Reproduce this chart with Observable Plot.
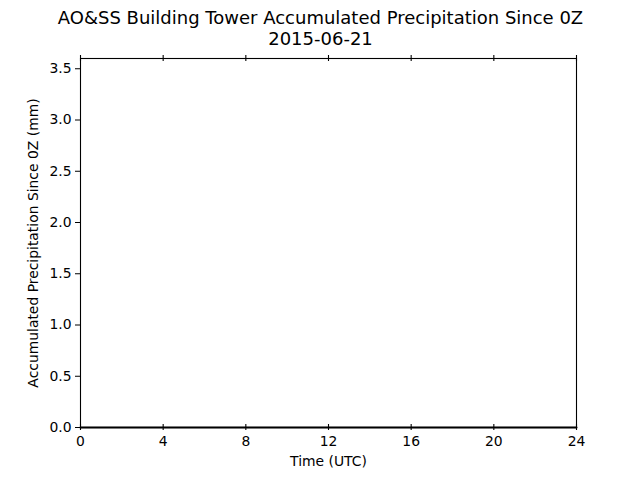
<!DOCTYPE html>
<html>
<head>
<meta charset="utf-8">
<script src="https://cdn.jsdelivr.net/npm/d3@7"></script>
<script src="https://cdn.jsdelivr.net/npm/@observablehq/plot@0.6"></script>
<style>
  html, body { margin: 0; padding: 0; background: white; }
</style>
</head>
<body>
<div id="chart"></div>
<script>
const titleLines = ["AO&SS Building Tower Accumulated Precipitation Since 0Z", "2015-06-21"];
const xLabel = "Time (UTC)";
const yLabel = "Accumulated Precipitation Since 0Z (mm)";
const hours = [0, 1, 2, 3, 4, 5, 6, 7, 8, 9, 10, 11, 12, 13, 14, 15, 16, 17, 18, 19, 20, 21, 22, 23, 24];
const precip = [0, 0, 0, 0, 0, 0, 0, 0, 0, 0, 0, 0, 0, 0, 0, 0, 0, 0, 0, 0, 0, 0, 0, 0, 0];
const xTicks = [0, 4, 8, 12, 16, 20, 24];
const yTicks = [0, 0.5, 1.0, 1.5, 2.0, 2.5, 3.0, 3.5];

const data = hours.map((h, i) => ({hour: h, value: precip[i]}));

const W = 640, H = 480;
const mTop = 58, mBottom = 53, mLeft = 80, mRight = 64;
const innerH = H - mTop - mBottom;

const chart = Plot.plot({
  width: W,
  height: H,
  marginTop: mTop,
  marginBottom: mBottom,
  marginLeft: mLeft,
  marginRight: mRight,
  style: {fontFamily: "DejaVu Sans", fontSize: "13.9px", color: "black", background: "white"},
  x: {domain: [0, 24]},
  y: {domain: [0, 3.6]},
  marks: [
    Plot.frame({stroke: "black", strokeWidth: 1.1}),
    Plot.line(data, {x: "hour", y: "value", stroke: "black", strokeWidth: 2}),
    Plot.tickX(xTicks, {x: d => d, stroke: "black", strokeWidth: 1.1, insetTop: innerH - 3, insetBottom: -3}),
    Plot.tickX(xTicks, {x: d => d, stroke: "black", strokeWidth: 1.1, insetTop: -3, insetBottom: innerH - 3}),
    Plot.axisX({ticks: xTicks, tickSize: 0, tickPadding: 9, fontSize: 13.9,
      label: xLabel, labelAnchor: "center", labelArrow: "none", labelOffset: 38}),
    Plot.axisY({ticks: yTicks, tickFormat: d3.format(".1f"), tickSize: 5, tickPadding: 4, fontSize: 13.9,
      label: yLabel, labelAnchor: "center", labelArrow: "none", labelOffset: 52}),
    Plot.text([titleLines[0]], {text: d => d, frameAnchor: "top", dx: -8, dy: -40,
      fontSize: 18, lineAnchor: "middle"}),
    Plot.text([titleLines[1]], {text: d => d, frameAnchor: "top", dx: -8, dy: -19,
      fontSize: 18, lineAnchor: "middle"})
  ]
});
document.getElementById("chart").appendChild(chart);
</script>
</body>
</html>
